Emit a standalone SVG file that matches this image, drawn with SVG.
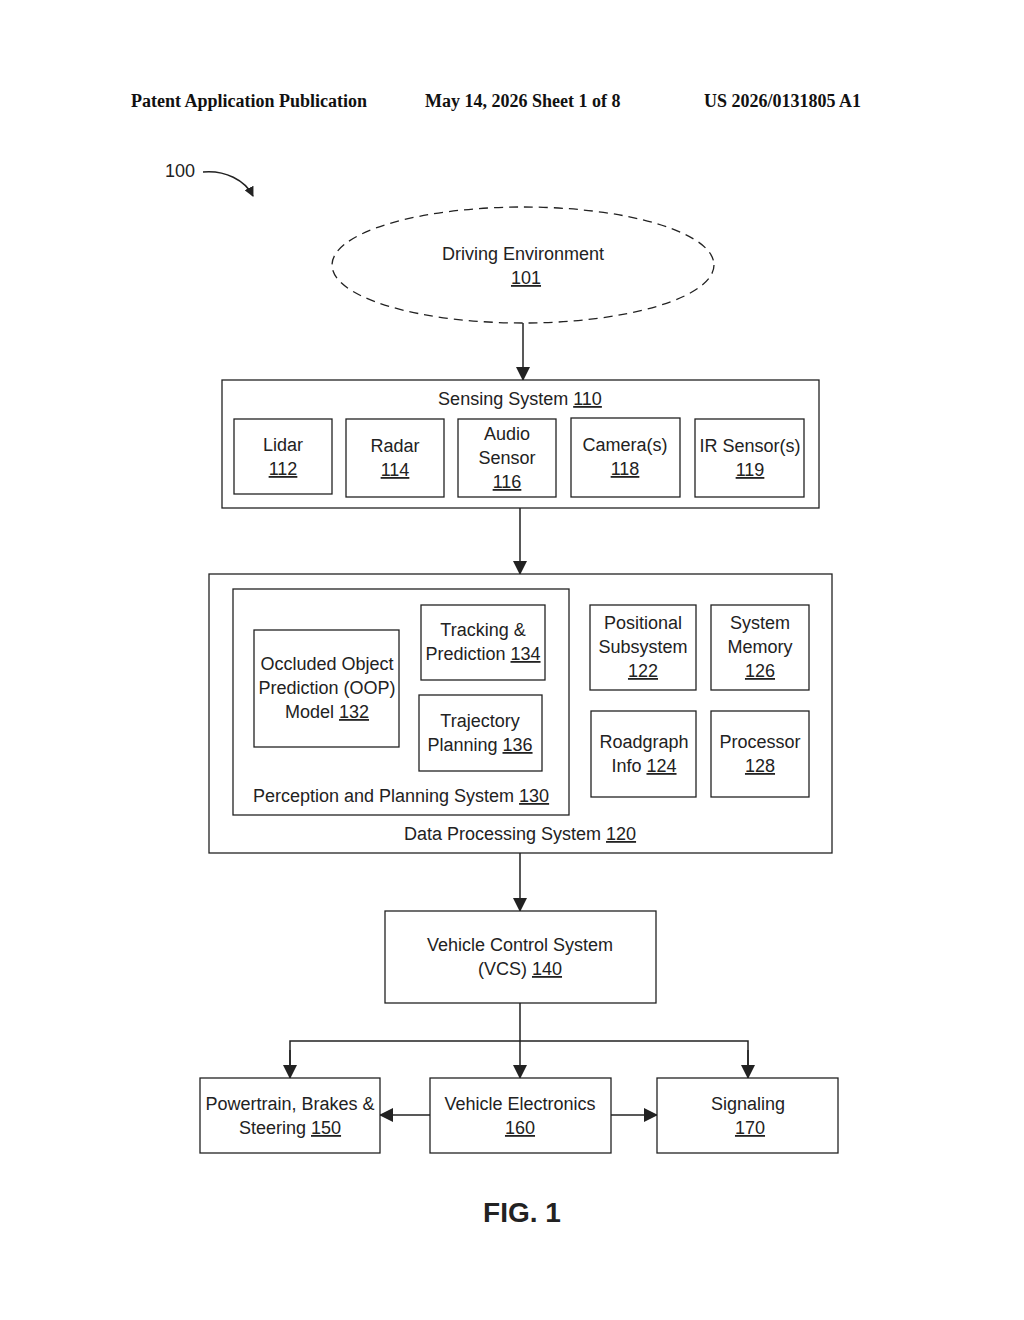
<svg xmlns="http://www.w3.org/2000/svg" width="1024" height="1320" viewBox="0 0 1024 1320">
<style>
.b{fill:#fff;stroke:#222;stroke-width:1.3}
.t{font-family:"Liberation Sans Narrow","Liberation Sans",Arial,sans-serif;font-size:18px;fill:#222;text-anchor:middle}
.u{text-decoration:underline}
.h{font-family:"Liberation Serif","Times New Roman",serif;font-size:18px;font-weight:bold;fill:#111}
.c{stroke:#222;stroke-width:1.5;fill:none}
</style>
<defs><marker id="a" markerWidth="10" markerHeight="10" refX="9" refY="5" orient="auto" markerUnits="userSpaceOnUse"><path d="M0,0 L10,5 L0,10 Z" fill="#222"/></marker>
<marker id="a2" markerWidth="14" markerHeight="14" refX="13" refY="7" orient="auto" markerUnits="userSpaceOnUse"><path d="M0,0 L14,7 L0,14 Z" fill="#222"/></marker></defs>
<rect width="1024" height="1320" fill="#fff"/>
<text class="h" x="131" y="107">Patent Application Publication</text>
<text class="h" x="425" y="107">May 14, 2026  Sheet 1 of 8</text>
<text class="h" x="704" y="107">US 2026/0131805 A1</text>
<text class="t" x="180" y="177">100</text>
<g id="connectors">
<path class="c" d="M203,172 C225,170 245,180 253,196" marker-end="url(#a)"/>
<path class="c" d="M523,323 V380" marker-end="url(#a2)"/>
<path class="c" d="M520,508 V574" marker-end="url(#a2)"/>
<path class="c" d="M520,853 V911" marker-end="url(#a2)"/>
<path class="c" d="M520,1003 V1078" marker-end="url(#a2)"/>
<path class="c" d="M290,1078 V1041 H748 V1078" />
<path class="c" d="M290,1050 V1078" marker-end="url(#a2)"/>
<path class="c" d="M748,1050 V1078" marker-end="url(#a2)"/>
<path class="c" d="M430,1115 H380" marker-end="url(#a2)"/>
<path class="c" d="M611,1115 H657" marker-end="url(#a2)"/>
</g>
<g id="n101"><ellipse cx="523" cy="265" rx="191" ry="58" fill="#fff" stroke="#222" stroke-width="1.3" stroke-dasharray="9,6"/>
<text class="t" x="523" y="260">Driving Environment</text><text class="t u" x="526" y="284">101</text></g>
<g id="n110"><rect class="b" x="222" y="380" width="597" height="128"/><text class="t" x="520" y="405">Sensing System <tspan class="u">110</tspan></text></g>
<g id="n112"><rect class="b" x="234" y="419" width="98" height="75"/><text class="t" x="283" y="451">Lidar</text><text class="t u" x="283" y="475">112</text></g>
<g id="n114"><rect class="b" x="346" y="419" width="98" height="78"/><text class="t" x="395" y="452">Radar</text><text class="t u" x="395" y="476">114</text></g>
<g id="n116"><rect class="b" x="458" y="419" width="98" height="78"/><text class="t" x="507" y="440">Audio</text><text class="t" x="507" y="464">Sensor</text><text class="t u" x="507" y="488">116</text></g>
<g id="n118"><rect class="b" x="571" y="418" width="109" height="79"/><text class="t" x="625" y="451">Camera(s)</text><text class="t u" x="625" y="475">118</text></g>
<g id="n119"><rect class="b" x="695" y="419" width="109" height="78"/><text class="t" x="750" y="452">IR Sensor(s)</text><text class="t u" x="750" y="476">119</text></g>
<g id="n120"><rect class="b" x="209" y="574" width="623" height="279"/><text class="t" x="520" y="840">Data Processing System <tspan class="u">120</tspan></text></g>
<g id="n130"><rect class="b" x="233" y="589" width="336" height="226"/><text class="t" x="401" y="802">Perception and Planning System <tspan class="u">130</tspan></text></g>
<g id="n132"><rect class="b" x="254" y="630" width="145" height="117"/><text class="t" x="327" y="670">Occluded Object</text><text class="t" x="327" y="694">Prediction (OOP)</text><text class="t" x="327" y="718">Model <tspan class="u">132</tspan></text></g>
<g id="n134"><rect class="b" x="421" y="605" width="124" height="75"/><text class="t" x="483" y="636">Tracking &amp;</text><text class="t" x="483" y="660">Prediction <tspan class="u">134</tspan></text></g>
<g id="n136"><rect class="b" x="419" y="695" width="123" height="76"/><text class="t" x="480" y="727">Trajectory</text><text class="t" x="480" y="751">Planning <tspan class="u">136</tspan></text></g>
<g id="n122"><rect class="b" x="590" y="605" width="106" height="85"/><text class="t" x="643" y="629">Positional</text><text class="t" x="643" y="653">Subsystem</text><text class="t u" x="643" y="677">122</text></g>
<g id="n126"><rect class="b" x="711" y="605" width="98" height="85"/><text class="t" x="760" y="629">System</text><text class="t" x="760" y="653">Memory</text><text class="t u" x="760" y="677">126</text></g>
<g id="n124"><rect class="b" x="591" y="711" width="105" height="86"/><text class="t" x="644" y="748">Roadgraph</text><text class="t" x="644" y="772">Info <tspan class="u">124</tspan></text></g>
<g id="n128"><rect class="b" x="711" y="711" width="98" height="86"/><text class="t" x="760" y="748">Processor</text><text class="t u" x="760" y="772">128</text></g>
<g id="n140"><rect class="b" x="385" y="911" width="271" height="92"/><text class="t" x="520" y="951">Vehicle Control System</text><text class="t" x="520" y="975">(VCS)  <tspan class="u">140</tspan></text></g>
<g id="n150"><rect class="b" x="200" y="1078" width="180" height="75"/><text class="t" x="290" y="1110">Powertrain, Brakes &amp;</text><text class="t" x="290" y="1134">Steering <tspan class="u">150</tspan></text></g>
<g id="n160"><rect class="b" x="430" y="1078" width="181" height="75"/><text class="t" x="520" y="1110">Vehicle Electronics</text><text class="t u" x="520" y="1134">160</text></g>
<g id="n170"><rect class="b" x="657" y="1078" width="181" height="75"/><text class="t" x="748" y="1110">Signaling</text><text class="t u" x="750" y="1134">170</text></g>
<text x="522" y="1222" font-family="Liberation Sans,Arial,sans-serif" font-size="28" font-weight="bold" text-anchor="middle" fill="#222">FIG. 1</text>
</svg>
